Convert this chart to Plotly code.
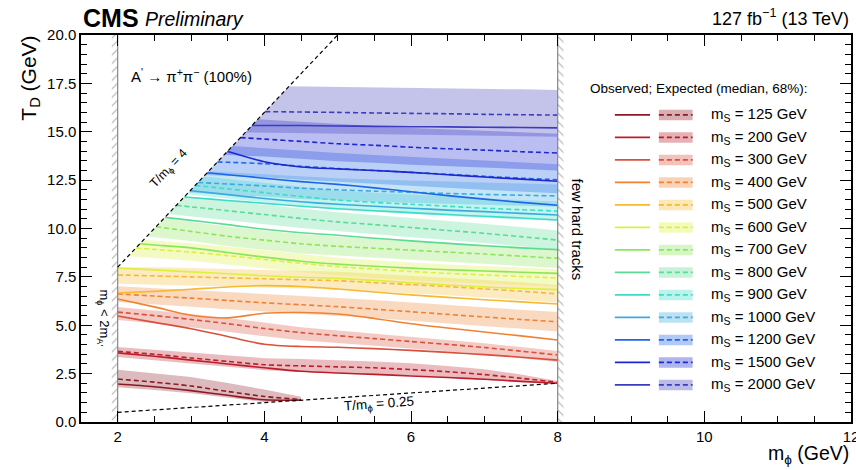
import plotly.graph_objects as go

N = None

# ---------------- data ----------------
M_PHI = [2.0, 2.5, 3.0, 3.5, 4.0, 4.5, 5.0, 5.5, 6.0, 6.5, 7.0, 7.5, 8.0]
MASSES = [125, 200, 300, 400, 500, 600, 700, 800, 900, 1000, 1200, 1500, 2000]
COLORS = ["#8c1a24", "#bb1e2a", "#d9503c", "#f08232", "#f5b932", "#dcf03c", "#8ce65a",
          "#5adc96", "#3cdcc8", "#3caae1", "#1e64e6", "#1e28d2", "#3c3cbe"]

OBS = [
    [1.96, 1.82, 1.62, 1.38, 1.15, 1.13, N, N, N, N, N, N, N],
    [3.57, 3.40, 3.20, 3.00, 2.80, 2.62, 2.53, 2.46, 2.38, 2.30, 2.21, 2.10, 2.00],
    [5.48, 5.15, 4.82, 4.42, 4.02, 3.90, 3.86, 3.79, 3.70, 3.60, 3.48, 3.35, 3.20],
    [6.36, 5.95, 5.52, 5.38, 5.62, 5.66, 5.58, 5.35, 5.08, 4.86, 4.65, 4.45, 4.24],
    [6.67, 6.75, 6.86, 6.98, 7.05, 7.00, 6.87, 6.72, 6.57, 6.44, 6.32, 6.21, 6.10],
    [7.95, 7.86, 7.76, 7.66, 7.56, 7.48, 7.42, 7.32, 7.20, 7.08, 6.98, 6.90, 6.84],
    [N, 9.15, 9.00, 8.76, 8.52, 8.31, 8.16, 8.05, 7.95, 7.87, 7.80, 7.74, 7.68],
    [N, N, 10.42, 10.20, 9.96, 9.78, 9.65, 9.50, 9.36, 9.23, 9.11, 9.00, 8.90],
    [N, N, 11.60, 11.45, 11.30, 11.15, 11.02, 10.92, 10.82, 10.72, 10.63, 10.54, 10.44],
    [N, N, 11.95, 11.75, 11.55, 11.38, 11.25, 11.15, 11.05, 10.95, 10.87, 10.78, 10.70],
    [N, N, N, 12.78, 12.60, 12.42, 12.28, 12.10, 11.90, 11.70, 11.52, 11.35, 11.20],
    [N, N, N, 13.98, 13.45, 13.18, 13.08, 13.00, 12.90, 12.78, 12.66, 12.55, 12.44],
    [N, N, N, N, 15.32, 15.32, 15.30, 15.28, 15.26, 15.25, 15.23, 15.22, 15.20],
]
EXP = [
    [2.22, 2.06, 1.86, 1.58, 1.32, 1.16, N, N, N, N, N, N, N],
    [3.65, 3.50, 3.31, 3.13, 2.96, 2.90, 2.85, 2.80, 2.71, 2.60, 2.45, 2.26, 2.05],
    [5.68, 5.50, 5.30, 5.08, 4.83, 4.62, 4.46, 4.31, 4.16, 4.01, 3.85, 3.66, 3.46],
    [6.62, 6.51, 6.40, 6.28, 6.16, 6.06, 5.96, 5.83, 5.70, 5.56, 5.43, 5.30, 5.18],
    [7.60, 7.55, 7.50, 7.45, 7.40, 7.35, 7.30, 7.20, 7.10, 7.00, 6.88, 6.76, 6.62],
    [N, 8.92, 8.78, 8.60, 8.40, 8.20, 8.03, 7.90, 7.78, 7.68, 7.60, 7.52, 7.44],
    [N, N, 9.85, 9.60, 9.40, 9.21, 9.08, 8.98, 8.88, 8.78, 8.68, 8.57, 8.46],
    [N, N, 11.12, 10.92, 10.72, 10.52, 10.34, 10.20, 10.05, 9.90, 9.75, 9.58, 9.40],
    [N, N, N, 12.05, 11.85, 11.65, 11.47, 11.35, 11.25, 11.15, 11.05, 10.97, 10.90],
    [N, N, N, 12.30, 12.20, 12.08, 12.00, 11.93, 11.87, 11.81, 11.76, 11.72, 11.68],
    [N, N, N, 13.42, 13.35, 13.22, 13.10, 13.00, 12.90, 12.80, 12.70, 12.60, 12.52],
    [N, N, N, N, 14.62, 14.50, 14.38, 14.30, 14.20, 14.12, 14.05, 13.97, 13.90],
    [N, N, N, N, N, 16.02, 16.00, 15.97, 15.95, 15.93, 15.90, 15.88, 15.86],
]
BAND_HI = [
    [2.70, 2.52, 2.32, 2.02, 1.68, 1.30, N, N, N, N, N, N, N],
    [3.88, 3.74, 3.58, 3.44, 3.30, 3.25, 3.20, 3.13, 3.03, 2.90, 2.72, 2.46, 2.12],
    [5.94, 5.77, 5.58, 5.37, 5.12, 4.90, 4.73, 4.57, 4.40, 4.24, 4.07, 3.87, 3.67],
    [7.02, 6.93, 6.83, 6.72, 6.61, 6.51, 6.42, 6.30, 6.17, 6.04, 5.92, 5.80, 5.68],
    [7.98, 8.00, 7.96, 7.91, 7.86, 7.81, 7.76, 7.66, 7.56, 7.46, 7.34, 7.22, 7.08],
    [N, 9.38, 9.24, 9.06, 8.86, 8.66, 8.49, 8.36, 8.24, 8.14, 8.06, 7.98, 7.90],
    [N, N, 10.35, 10.10, 9.90, 9.71, 9.58, 9.48, 9.38, 9.28, 9.18, 9.07, 8.96],
    [N, N, 11.62, 11.42, 11.22, 11.02, 10.84, 10.70, 10.55, 10.40, 10.25, 10.08, 9.90],
    [N, N, N, 12.55, 12.35, 12.15, 11.97, 11.85, 11.75, 11.65, 11.55, 11.47, 11.40],
    [N, N, N, 12.90, 12.80, 12.68, 12.60, 12.53, 12.47, 12.41, 12.36, 12.32, 12.28],
    [N, N, N, N, 14.15, 14.02, 13.90, 13.80, 13.70, 13.60, 13.50, 13.40, 13.32],
    [N, N, N, N, 15.62, 15.50, 15.38, 15.30, 15.20, 15.12, 15.05, 14.97, 14.90],
    [N, N, N, N, N, 17.35, 17.33, 17.30, 17.28, 17.25, 17.22, 17.19, 17.16],
]
BAND_LO = [
    [1.80, 1.66, 1.48, 1.26, 1.04, 1.13, N, N, N, N, N, N, N],
    [3.36, 3.20, 3.03, 2.86, 2.68, 2.60, 2.55, 2.49, 2.40, 2.31, 2.19, 2.06, 2.00],
    [5.27, 5.10, 4.90, 4.68, 4.43, 4.22, 4.07, 3.93, 3.79, 3.65, 3.50, 3.30, 3.10],
    [6.20, 6.08, 5.96, 5.83, 5.71, 5.60, 5.50, 5.37, 5.23, 5.08, 4.95, 4.81, 4.68],
    [7.15, 7.10, 7.05, 7.00, 6.95, 6.90, 6.85, 6.75, 6.65, 6.55, 6.43, 6.31, 6.17],
    [N, 8.47, 8.33, 8.15, 7.95, 7.75, 7.58, 7.45, 7.33, 7.23, 7.15, 7.07, 6.99],
    [N, 9.55, 9.35, 9.10, 8.90, 8.71, 8.58, 8.48, 8.38, 8.28, 8.18, 8.07, 7.96],
    [N, N, 10.62, 10.42, 10.22, 10.02, 9.84, 9.70, 9.55, 9.40, 9.25, 9.08, 8.90],
    [N, N, 11.75, 11.55, 11.35, 11.15, 10.97, 10.85, 10.75, 10.65, 10.55, 10.47, 10.40],
    [N, N, 11.85, 11.75, 11.65, 11.53, 11.45, 11.38, 11.32, 11.26, 11.21, 11.17, 11.13],
    [N, N, N, 12.72, 12.65, 12.52, 12.40, 12.30, 12.20, 12.10, 12.00, 11.90, 11.82],
    [N, N, N, 13.80, 13.72, 13.60, 13.48, 13.40, 13.30, 13.22, 13.15, 13.07, 13.00],
    [N, N, N, N, 14.95, 14.92, 14.90, 14.87, 14.85, 14.82, 14.80, 14.77, 14.74],
]

RATIO_MAX = 4.0      # T / m_phi upper validity
RATIO_MIN = 0.25     # T / m_phi lower validity
M_PHI_MIN = 2.0      # m_phi = 2 m_A'
M_PHI_MAX = 8.0      # few hard tracks
T_MAX = 20.0

FONT = "Liberation Sans, Arial, Helvetica, sans-serif"
BAND_ALPHA = 0.30


def rgba(hexc, a):
    h = hexc.lstrip("#")
    r, g, b = int(h[0:2], 16), int(h[2:4], 16), int(h[4:6], 16)
    return f"rgba({r},{g},{b},{a})"


def edge(values):
    """Valid points of a curve, starting on the T/m_phi = 4 boundary."""
    xs = [x for x, v in zip(M_PHI, values) if v is not None]
    ys = [v for v in values if v is not None]
    if xs[0] > M_PHI[0] and len(xs) >= 2:
        s = (ys[1] - ys[0]) / (xs[1] - xs[0])
        x0 = (ys[0] - s * xs[0]) / (RATIO_MAX - s)
        xs = [x0] + xs
        ys = [RATIO_MAX * x0] + ys
    return xs, ys


fig = go.Figure()

# bands
for i, m in enumerate(MASSES):
    hx, hy = edge(BAND_HI[i])
    lx, ly = edge(BAND_LO[i])
    fig.add_trace(go.Scatter(
        x=hx + lx[::-1], y=hy + ly[::-1], mode="lines", fill="toself",
        fillcolor=rgba(COLORS[i], BAND_ALPHA), line=dict(width=0),
        hoverinfo="skip", showlegend=False))

# expected & observed lines
for i, m in enumerate(MASSES):
    ex, ey = edge(EXP[i])
    fig.add_trace(go.Scatter(
        x=ex, y=ey, mode="lines", line=dict(color=COLORS[i], width=1.6, dash="5px,3px",
                                            shape="spline", smoothing=0.8),
        showlegend=False, name=f"exp {m}"))
    ox, oy = edge(OBS[i])
    fig.add_trace(go.Scatter(
        x=ox, y=oy, mode="lines", line=dict(color=COLORS[i], width=1.6,
                                            shape="spline", smoothing=0.8),
        showlegend=False, name=f"obs {m}"))

# hatched validity boundaries
HATCH_W = 0.08
for xb, side, shp in [(M_PHI_MIN, -1, "/"), (M_PHI_MAX, 1, "\\")]:
    x2 = xb + side * HATCH_W
    fig.add_trace(go.Scatter(
        x=[xb, x2, x2, xb, xb], y=[0, 0, T_MAX, T_MAX, 0], mode="lines", fill="toself",
        fillcolor="rgba(0,0,0,0)", line=dict(width=0),
        fillpattern=dict(shape=shp, size=6, solidity=0.2, fgcolor="#7a7a7a",
                         bgcolor="rgba(0,0,0,0)"),
        hoverinfo="skip", showlegend=False))
    fig.add_trace(go.Scatter(x=[xb, xb], y=[0, T_MAX], mode="lines",
                             line=dict(color="#888888", width=1.2),
                             hoverinfo="skip", showlegend=False))

# T/m_phi boundaries
fig.add_trace(go.Scatter(x=[M_PHI_MIN, T_MAX / RATIO_MAX],
                         y=[RATIO_MAX * M_PHI_MIN, T_MAX], mode="lines",
                         line=dict(color="black", width=1.2, dash="4px,3px"),
                         hoverinfo="skip", showlegend=False))
fig.add_trace(go.Scatter(x=[M_PHI_MIN, M_PHI_MAX],
                         y=[RATIO_MIN * M_PHI_MIN, RATIO_MIN * M_PHI_MAX], mode="lines",
                         line=dict(color="black", width=1.2, dash="4px,3px"),
                         hoverinfo="skip", showlegend=False))

# ---------------- manual legend ----------------
LEG_Y0 = 15.87
LEG_DY = 1.163
LEG_LINE = (8.78, 9.26)
LEG_BOX = (9.38, 9.84)
LEG_BOX_H = 0.27
LEG_TEXT_X = 10.07
shapes = []
annotations = []
for i, m in enumerate(MASSES):
    yy = LEG_Y0 - i * LEG_DY
    shapes.append(dict(type="line", xref="x", yref="y", x0=LEG_LINE[0], x1=LEG_LINE[1],
                       y0=yy, y1=yy, line=dict(color=COLORS[i], width=1.8)))
    shapes.append(dict(type="rect", xref="x", yref="y", x0=LEG_BOX[0], x1=LEG_BOX[1],
                       y0=yy - LEG_BOX_H, y1=yy + LEG_BOX_H, line=dict(width=0),
                       fillcolor=rgba(COLORS[i], BAND_ALPHA + 0.05)))
    shapes.append(dict(type="line", xref="x", yref="y", x0=LEG_BOX[0], x1=LEG_BOX[1],
                       y0=yy, y1=yy, line=dict(color=COLORS[i], width=1.8, dash="5px,3px")))
    annotations.append(dict(x=LEG_TEXT_X, y=yy, xref="x", yref="y", xanchor="left",
                            yanchor="middle", showarrow=False,
                            text=f"m<sub>S</sub> = {m} GeV",
                            font=dict(size=15, family=FONT, color="black")))

annotations.append(dict(x=8.41, y=17.26, xref="x", yref="y", xanchor="left", yanchor="middle",
                        showarrow=False, text="Observed; Expected (median, 68%):",
                        font=dict(size=13.5, family=FONT, color="black")))

# texts in the plot
annotations += [
    dict(x=2.16, y=17.93, xref="x", yref="y", xanchor="left", yanchor="middle", showarrow=False,
         text="A<sup>'</sup> → π<sup>+</sup>π<sup>−</sup> (100%)",
         font=dict(size=15, family=FONT, color="black")),
    dict(x=2.70, y=13.1, xref="x", yref="y", showarrow=False, textangle=-46.5,
         text="T/m<sub>ϕ</sub> = 4", font=dict(size=12.5, family=FONT, color="black")),
    dict(x=5.57, y=0.88, xref="x", yref="y", showarrow=False, textangle=-4,
         text="T/m<sub>ϕ</sub> = 0.25", font=dict(size=13.5, family=FONT, color="black")),
    dict(x=1.80, y=5.4, xref="x", yref="y", showarrow=False, textangle=90,
         text="m<sub>ϕ</sub> &lt; 2m<sub>A'</sub>", font=dict(size=13, family=FONT, color="black")),
    dict(x=8.27, y=9.92, xref="x", yref="y", showarrow=False, textangle=90,
         text="few hard tracks", font=dict(size=15, family=FONT, color="black")),
    # header
    dict(x=0.0, y=1.044, xref="paper", yref="paper", xanchor="left", yanchor="middle",
         showarrow=False, text="<b>CMS</b>", font=dict(size=25, family=FONT, color="black")),
    dict(x=0.080, y=1.041, xref="paper", yref="paper", xanchor="left", yanchor="middle",
         showarrow=False, text="<i>Preliminary</i>", font=dict(size=19.5, family=FONT, color="black")),
    dict(x=1.0, y=1.044, xref="paper", yref="paper", xanchor="right", yanchor="middle",
         showarrow=False, text="127 fb<sup>−1</sup> (13 TeV)",
         font=dict(size=18, family=FONT, color="black")),
    # axis titles
    dict(x=1.0, y=-0.085, xref="paper", yref="paper", xanchor="right", yanchor="middle",
         showarrow=False, text="m<sub>ϕ</sub> (GeV)", font=dict(size=19.5, family=FONT, color="black")),
    dict(x=-0.0666, y=0.889, xref="paper", yref="paper", xanchor="center", yanchor="middle",
         showarrow=False, textangle=-90, text="T<sub>D</sub> (GeV)",
         font=dict(size=21, family=FONT, color="black")),
]

axis_common = dict(ticks="inside", tickcolor="black", tickwidth=1, ticklen=11,
                   showline=True, linecolor="black", linewidth=1.5, mirror="ticks",
                   showgrid=False, zeroline=False, ticklabeloverflow="allow", automargin=False,
                   tickfont=dict(size=15, family=FONT, color="black"))

fig.update_layout(
    width=856, height=470,
    margin=dict(l=81, r=5, t=35, b=48, autoexpand=False),
    paper_bgcolor="white", plot_bgcolor="white",
    showlegend=False,
    shapes=shapes, annotations=annotations,
    xaxis=dict(range=[1.5, 12], tickvals=[2, 4, 6, 8, 10, 12],
               minor=dict(dtick=0.5, tick0=0, ticks="inside", ticklen=6, tickcolor="black"),
               **axis_common),
    yaxis=dict(range=[0, T_MAX], tick0=0, dtick=2.5, tickformat=".1f",
               minor=dict(dtick=0.5, tick0=0, ticks="inside", ticklen=6, tickcolor="black"),
               **axis_common),
)

fig.write_html("out.html", config={"displayModeBar": False},
               post_script="document.body.style.margin='0';document.body.style.overflow='hidden';")
